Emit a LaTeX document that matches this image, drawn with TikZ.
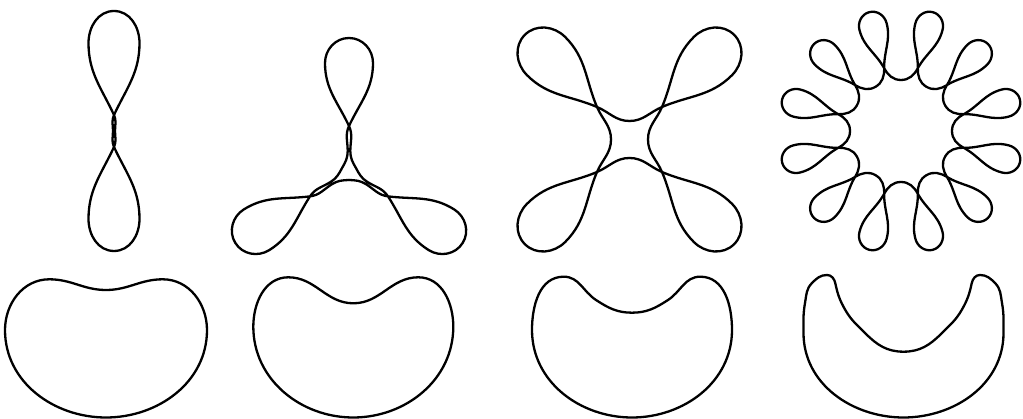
\documentclass[tikz,border=0pt]{standalone}
\usepackage{tikz}
\usetikzlibrary{calc}
\begin{document}
\begin{tikzpicture}[
    x=1pt, y=1pt,
    curve/.style = {draw=black, line width=2.3pt, line cap=round, line join=round},
]
\useasboundingbox (0,0) rectangle (1023,419);

% =============================== Top row: looped curves ==========================
% two loops
\begin{scope}[shift={(114,288)}]
  \foreach \a in {0,180} {
      \draw[curve, rotate=\a] (0:1) to[out=90, in=295] (0,16)
          to[out=115, in=270] (-25.5,88) to[out=90, in=180] (0,120)
          to[out=0, in=90] (25.5,88) to[out=270, in=65] (0,16)
          to[out=245, in=90] (180:1);
  }
\end{scope}

% three loops
\begin{scope}[shift={(349,247)}]
  \foreach \a in {0,122,238} {
      \draw[curve, rotate=\a] (30:8) to[out=120, in=270] (1.3,21)
          to[out=90, in=295] (0,46) to[out=115, in=270] (-24,109)
          to[out=90, in=180] (0,134) to[out=0, in=90] (24,109)
          to[out=270, in=65] (0,46) to[out=245, in=90] (-1.3,21)
          to[out=270, in=60] (150:8);
  }
\end{scope}

% four loops
\begin{scope}[shift={(629.5,279.5)}]
  \foreach \a in {-45,45,135,225} {
      \draw[curve, rotate=\a] (45:18.5) to[out=135, in=292] (0,46)
          to[out=112, in=270] (-27,118) to[out=90, in=180] (0,148)
          to[out=0, in=90] (27,118) to[out=270, in=68] (0,46)
          to[out=248, in=45] (135:18.5);
  }
\end{scope}

% twelve loops
\begin{scope}[shift={(901,288)}]
  \foreach \k in {0,...,11} {
      \draw[curve, rotate=-75+30*\k] (75:51) to[out=165, in=284] (0,65)
          to[out=104, in=270] (-14,108) to[out=90, in=180] (0,123)
          to[out=0, in=90] (14,108) to[out=270, in=76] (0,65)
          to[out=256, in=15] (105:51);
  }
\end{scope}

% =============================== Bottom row: beans ===============================
\begin{scope}[shift={(106,0)}]
  \draw[curve] (0,129) to[out=0, in=180] (56.7,139.7) to[out=0, in=90] (101,89)
      to[out=270, in=0] (0,1.5) to[out=180, in=270] (-101,89)
      to[out=90, in=180] (-56.7,139.7) to[out=0, in=180] (0,129) -- cycle;
\end{scope}

\begin{scope}[shift={(353.3,0)}]
  \draw[curve] (0,115.7) to[out=0, in=180] (65,141.7) to[out=0, in=90] (100,92.3)
      to[out=270, in=0] (0,1.5) to[out=180, in=270] (-100,92.3)
      to[out=90, in=180] (-65,141.7) to[out=0, in=180] (0,115.7) -- cycle;
\end{scope}

\begin{scope}[shift={(632,0)}]
  \draw[curve] (0,106.3) to[out=0, in=213] (36,119) to[out=33, in=180] (68.3,142.3)
      to[out=0, in=90] (100,89) to[out=270, in=0] (0,1.5)
      to[out=180, in=270] (-100,89) to[out=90, in=180] (-68.3,142.3)
      to[out=0, in=147] (-36,119) to[out=327, in=180] (0,106.3) -- cycle;
\end{scope}

\begin{scope}[shift={(903.5,0)}]
  \draw[curve] (0,1.5) to[out=0, in=270] (100,86) to[out=90, in=280] (98.5,116)
      to[out=100, in=315] (91.5,136) to[out=135, in=0] (76.5,144)
      to[out=180, in=78] (68.2,135.7) to[out=258, in=60] (58.2,109)
      to[out=240, in=45] (38.2,85.7) to[out=225, in=0] (0,67.3)
      to[out=180, in=315] (-38.2,85.7) to[out=135, in=300] (-58.2,109)
      to[out=120, in=282] (-68.2,135.7) to[out=102, in=0] (-76.5,144)
      to[out=180, in=45] (-91.5,136) to[out=225, in=80] (-98.5,116)
      to[out=260, in=90] (-100,86) to[out=270, in=180] (0,1.5) -- cycle;
\end{scope}

\end{tikzpicture}
\end{document}
